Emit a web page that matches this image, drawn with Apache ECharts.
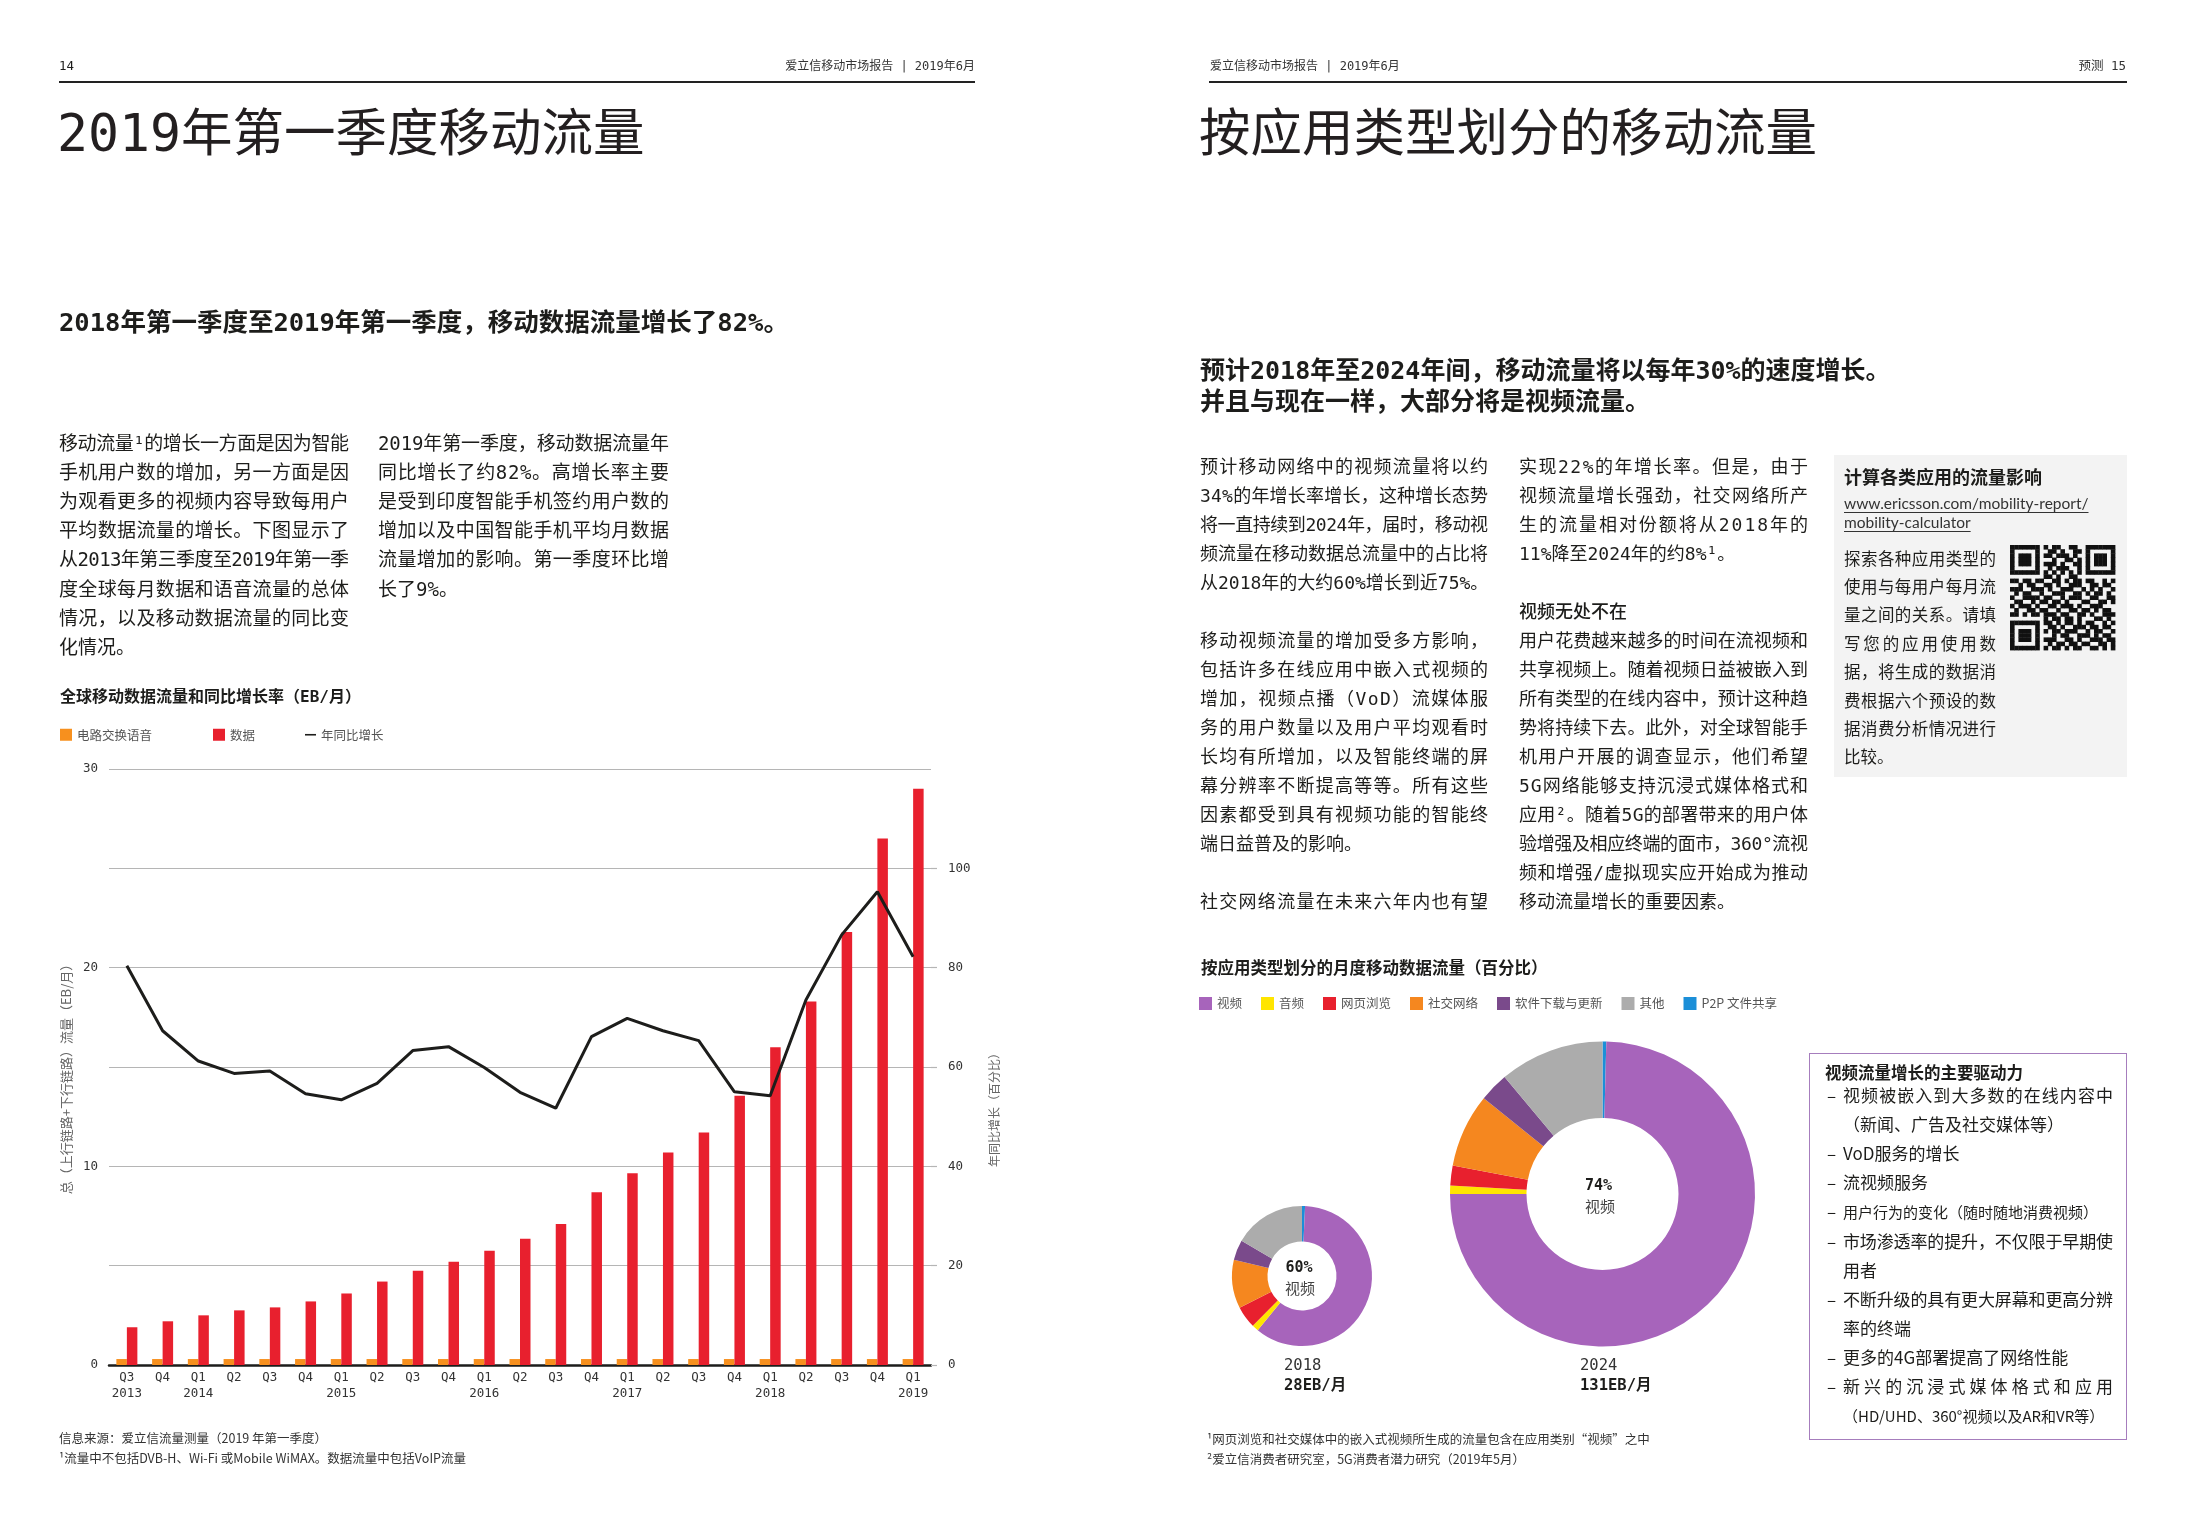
<!DOCTYPE html>
<html>
<head>
<meta charset="utf-8">
<script src="https://cdn.jsdelivr.net/npm/echarts@6/dist/echarts.min.js"></script>
<style>
  html, body { margin:0; padding:0; background:#fff; }
  #page { position:relative; width:2185px; height:1535px; overflow:hidden; background:#fff; }
  #bg, #txt { position:absolute; left:0; top:0; width:2185px; height:1535px; }
  #chart { position:absolute; left:0; top:0; width:2185px; height:1535px; }
  .t { position:absolute; white-space:nowrap; color:#1d1d1b; font-family:"DejaVu Sans Mono","Noto Sans CJK SC",sans-serif; }
  .cjk { font-family:"Noto Sans CJK SC",sans-serif; }
  .b { font-weight:700; }
</style>
</head>
<body>
<div id="page">
  <div id="bg"></div>
  <div id="chart"></div>
  <div id="txt"></div>
</div>
<script>
// ---------------- DATA ----------------
const quarters = ['Q3','Q4','Q1','Q2','Q3','Q4','Q1','Q2','Q3','Q4','Q1','Q2','Q3','Q4','Q1','Q2','Q3','Q4','Q1','Q2','Q3','Q4','Q1'];
const yearLabels = ['2013','','2014','','','','2015','','','','2016','','','','2017','','','','2018','','','','2019'];
const voiceTraffic = [0.3,0.3,0.3,0.3,0.3,0.3,0.3,0.3,0.3,0.3,0.3,0.3,0.3,0.3,0.3,0.3,0.3,0.3,0.3,0.3,0.3,0.3,0.3];
const dataTraffic = [1.9,2.2,2.5,2.75,2.9,3.2,3.6,4.2,4.75,5.2,5.75,6.35,7.1,8.7,9.65,10.7,11.7,13.55,16.0,18.3,21.8,26.5,29.0];
const yoyGrowth = [80.4,67.3,61.2,58.7,59.2,54.6,53.4,56.7,63.3,64.1,59.9,54.9,51.7,66.1,69.8,67.3,65.3,55.0,54.2,73.5,86.6,95.3,82.2];
const leftAxisTicks = [0,10,20,30];

const appCategories = ['P2P 文件共享','视频','音频','网页浏览','社交网络','软件下载与更新','其他'];
const appColors = ['#1b8fd8','#a764bb','#ffe500','#e8202e','#f5871f','#7a4a8b','#acacac'];
const share2018 = [0.7,60.2,1.5,5.1,11.2,4.7,16.6];
const share2024 = [0.4,74.6,0.9,2.1,7.8,3.1,11.1];
const legendOrder = ['视频','音频','网页浏览','社交网络','软件下载与更新','其他','P2P 文件共享'];

const qrRows = [
'1111111010110011001111111',
'1000001001101001101000001',
'1011101011011101001011101',
'1011101000100110101011101',
'1011101011101001101011101',
'1000001001011100101000001',
'1111111010101010101111111',
'0000000011010011000000000',
'1101101100110101101100101',
'0010110011010011100110110',
'1110011101001110010101001',
'0101100100111001101011010',
'1001111011001011100110011',
'0110010110110100011001101',
'1011101001101110100111000',
'0100110110010011011010110',
'1101011011101100110100111',
'0000000010110110100011010',
'1111111011010110101100101',
'1000001001101001110110110',
'1011101010110111001011001',
'1011101000101100111010110',
'1011101011100110100111011',
'1000001001011011011001101',
'1111111010110101100110101'
];

// ---------------- TEXT HELPERS ----------------
const T = document.getElementById('txt');
const BG = document.getElementById('bg');
function put(text, x, yc, size, opt) {
  opt = opt || {};
  const lh = Math.round(size * 1.4);
  const d = document.createElement('div');
  d.className = 't' + (opt.cls ? ' ' + opt.cls : '');
  d.style.fontSize = size + 'px';
  d.style.lineHeight = lh + 'px';
  d.style.top = (yc - lh / 2) + 'px';
  if (opt.color) d.style.color = opt.color;
  if (opt.weight) d.style.fontWeight = opt.weight;
  if (opt.family) d.style.fontFamily = opt.family;
  const s = document.createElement('span');
  s.textContent = text;
  d.appendChild(s);
  T.appendChild(d);
  if (opt.align === 'right') {
    d.style.right = (2185 - x) + 'px';
  } else if (opt.align === 'center') {
    const w = s.getBoundingClientRect().width;
    d.style.left = (x - w / 2) + 'px';
  } else {
    d.style.left = x + 'px';
  }
  if (opt.width) {
    const w0 = s.getBoundingClientRect().width;
    const n = Array.from(text).length;
    if (n > 1) s.style.letterSpacing = ((opt.width - w0) / (n - 1)) + 'px';
  }
  if (opt.underline) {
    s.style.textDecoration = 'underline';
    s.style.textUnderlineOffset = '3px';
    s.style.textDecorationThickness = '1px';
  }
  return d;
}
function block(lines, x, y0, step, width, size, opt) {
  opt = opt || {};
  lines.forEach((ln, i) => {
    if (!ln) return;
    const left = ln.charAt(0) === '~';
    const txt = left ? ln.slice(1) : ln;
    put(txt, x, y0 + i * step, size, Object.assign({}, opt, left ? {} : { width: width }));
  });
}
function rect(parent, x, y, w, h, css) {
  const d = document.createElement('div');
  d.style.position = 'absolute';
  d.style.left = x + 'px'; d.style.top = y + 'px';
  d.style.width = w + 'px'; d.style.height = h + 'px';
  Object.assign(d.style, css);
  parent.appendChild(d);
}

// headers
put('14', 59, 66, 12.5);
put('爱立信移动市场报告 | 2019年6月', 975, 66, 12, { align: 'right', color: '#333' });
put('爱立信移动市场报告 | 2019年6月', 1210, 66, 12, { color: '#333' });
put('预测 15', 2126, 66, 12.5, { align: 'right', color: '#333' });
rect(T, 59, 81, 916, 1.6, { background: '#222' });
rect(T, 1209, 81, 918, 1.6, { background: '#222' });

// titles
put('2019年第一季度移动流量', 57, 133, 51.5, { color: '#231f20' });
put('按应用类型划分的移动流量', 1199, 133, 51.5, { color: '#231f20' });

put('2018年第一季度至2019年第一季度，移动数据流量增长了82%。', 59, 322, 25.5, { cls: 'b' });
put('预计2018年至2024年间，移动流量将以每年30%的速度增长。', 1200, 370, 25, { cls: 'b' });
put('并且与现在一样，大部分将是视频流量。', 1200, 401, 25, { cls: 'b' });

// left body
block(['移动流量¹的增长一方面是因为智能','手机用户数的增加，另一方面是因','为观看更多的视频内容导致每用户','平均数据流量的增长。下图显示了','从2013年第三季度至2019年第一季','度全球每月数据和语音流量的总体','情况，以及移动数据流量的同比变','~化情况。'], 59, 443, 29.2, 290, 19);
block(['2019年第一季度，移动数据流量年','同比增长了约82%。高增长率主要','是受到印度智能手机签约用户数的','增加以及中国智能手机平均月数据','流量增加的影响。第一季度环比增','~长了9%。'], 378, 443, 29.2, 291, 19);

put('全球移动数据流量和同比增长率（EB/月）', 60, 697, 16, { cls: 'b' });
put('信息来源：爱立信流量测量（2019 年第一季度）', 59, 1438, 12.5, { cls: 'cjk', color: '#333' });
put('¹流量中不包括DVB-H、Wi-Fi 或Mobile WiMAX。数据流量中包括VoIP流量', 59, 1458, 12.5, { cls: 'cjk', color: '#333' });

// right body
block(['预计移动网络中的视频流量将以约','34%的年增长率增长，这种增长态势','将一直持续到2024年，届时，移动视','频流量在移动数据总流量中的占比将','~从2018年的大约60%增长到近75%。','',
  '移动视频流量的增加受多方影响，','包括许多在线应用中嵌入式视频的','增加，视频点播（VoD）流媒体服','务的用户数量以及用户平均观看时','长均有所增加，以及智能终端的屏','幕分辨率不断提高等等。所有这些','因素都受到具有视频功能的智能终','~端日益普及的影响。','',
  '社交网络流量在未来六年内也有望'], 1200, 466.5, 29, 288, 18);
block(['实现22%的年增长率。但是，由于','视频流量增长强劲，社交网络所产','生的流量相对份额将从2018年的','~11%降至2024年的约8%¹。','','',
  '用户花费越来越多的时间在流视频和','共享视频上。随着视频日益被嵌入到','所有类型的在线内容中，预计这种趋','势将持续下去。此外，对全球智能手','机用户开展的调查显示，他们希望','5G网络能够支持沉浸式媒体格式和','应用²。随着5G的部署带来的用户体','验增强及相应终端的面市，360°流视','频和增强/虚拟现实应开始成为推动','~移动流量增长的重要因素。'], 1519, 466.5, 29, 289, 18);
put('视频无处不在', 1519, 611.5, 18, { weight: 500 });

// sidebar (background sits below the chart canvas so the QR code is visible)
rect(BG, 1834, 455, 293, 322, { background: '#f3f3f3' });
put('计算各类应用的流量影响', 1844, 476, 18, { cls: 'cjk b' });
put('www.ericsson.com/mobility-report/', 1844, 503, 15.5, { family: 'Lato, "Noto Sans", sans-serif', color: '#333', underline: true });
put('mobility-calculator', 1844, 522, 15.5, { family: 'Lato, "Noto Sans", sans-serif', color: '#333', underline: true });
block(['探索各种应用类型的','使用与每用户每月流','量之间的关系。请填','写您的应用使用数','据，将生成的数据消','费根据六个预设的数','据消费分析情况进行','~比较。'], 1844, 558, 28.4, 152, 16.5, { cls: 'cjk' });

// right chart texts
put('按应用类型划分的月度移动数据流量（百分比）', 1201, 968, 16.5, { cls: 'b' });
put('60%', 1299, 1267, 15, { align: 'center', cls: 'b' });
put('视频', 1300, 1287, 15, { align: 'center', cls: 'cjk', color: '#444' });
put('74%', 1598.5, 1185, 15, { align: 'center', cls: 'b' });
put('视频', 1600, 1205, 15, { align: 'center', cls: 'cjk', color: '#444' });
put('2018', 1284, 1365, 15.5, { color: '#333' });
put('28EB/月', 1284, 1385, 15.5, { cls: 'b' });
put('2024', 1580, 1365, 15.5, { color: '#333' });
put('131EB/月', 1580, 1385, 15.5, { cls: 'b' });
put('¹网页浏览和社交媒体中的嵌入式视频所生成的流量包含在应用类别“视频”之中', 1207, 1439, 12.5, { cls: 'cjk', color: '#333' });
put('²爱立信消费者研究室，5G消费者潜力研究（2019年5月）', 1207, 1459, 12.5, { cls: 'cjk', color: '#333' });

// drivers box
rect(T, 1809, 1053, 318, 387, { border: '1.5px solid #a67dbd', boxSizing: 'border-box' });
put('视频流量增长的主要驱动力', 1825, 1072, 16.5, { cls: 'cjk b' });
const drivers = [
  ['视频被嵌入到大多数的在线内容中', 1, 1, 17],
  ['（新闻、广告及社交媒体等）', 0, 0, 17],
  ['VoD服务的增长', 1, 0, 17],
  ['流视频服务', 1, 0, 17],
  ['用户行为的变化（随时随地消费视频）', 1, 0, 15],
  ['市场渗透率的提升，不仅限于早期使', 1, 1, 17],
  ['用者', 0, 0, 17],
  ['不断升级的具有更大屏幕和更高分辨', 1, 1, 17],
  ['率的终端', 0, 0, 17],
  ['更多的4G部署提高了网络性能', 1, 0, 17],
  ['新兴的沉浸式媒体格式和应用', 1, 1, 17],
  ['（HD/UHD、360°视频以及AR和VR等）', 0, 0, 15]
];
drivers.forEach((d, i) => {
  const yc = 1095 + i * 29.1;
  if (d[1]) put('–', 1827, yc, 17, { cls: 'cjk' });
  put(d[0], 1843, yc, d[3], Object.assign({ cls: 'cjk' }, d[2] ? { width: 270 } : {}));
});

// ---------------- CHART ----------------
const MONO = '"DejaVu Sans Mono", "Noto Sans CJK SC", sans-serif';
const CJK = '"Noto Sans CJK SC", sans-serif';
const chart = echarts.init(document.getElementById('chart'), null, { renderer: 'canvas', width: 2185, height: 1535 });

const qrModule = 105 / 25;
const qrElements = [];
qrRows.forEach((row, r) => {
  for (let c = 0; c < row.length; c++) {
    if (row[c] === '1') qrElements.push({
      type: 'rect',
      shape: { x: 2010 + c * qrModule, y: 545 + r * qrModule, width: qrModule + 0.4, height: qrModule + 0.4 },
      style: { fill: '#111' }, silent: true
    });
  }
});

const legendText = { fontSize: 12.5, color: '#555', fontFamily: CJK };
const pieData = (vals) => appCategories.map((n, i) => ({ name: n, value: vals[i], itemStyle: { color: appColors[i] } }));

chart.setOption({
  animation: false,
  backgroundColor: 'transparent',
  textStyle: { fontFamily: MONO },
  grid: { left: 109, top: 769, width: 822, height: 596, containLabel: false, outerBoundsMode: 'none' },
  legend: [
    { data: ['电路交换语音'], left: 60, top: 728.5, padding: 0, itemWidth: 12, itemHeight: 12, icon: 'rect', textStyle: legendText, selectedMode: false },
    { data: ['数据'], left: 213, top: 728.5, padding: 0, itemWidth: 12, itemHeight: 12, icon: 'rect', textStyle: legendText, selectedMode: false },
    { data: ['年同比增长'], left: 305, top: 728.5, padding: 0, itemWidth: 11, itemHeight: 1.6, icon: 'rect', textStyle: legendText, selectedMode: false },
    { data: legendOrder, left: 1199, top: 997, padding: 0, itemWidth: 13, itemHeight: 13, itemGap: 19, icon: 'rect', textStyle: legendText, selectedMode: false }
  ],
  xAxis: {
    type: 'category', data: quarters,
    axisLine: { lineStyle: { color: '#1d1d1b', width: 2.5 } },
    axisTick: { show: false },
    axisLabel: {
      interval: 0, margin: 5, fontSize: 12.5, lineHeight: 16, color: '#333', fontFamily: MONO,
      formatter: (v, i) => yearLabels[i] ? v + '\n' + yearLabels[i] : v
    }
  },
  yAxis: [
    {
      type: 'value', min: 0, max: 30, interval: 5,
      axisLine: { show: false }, axisTick: { show: false },
      splitLine: { lineStyle: { color: '#b5b5b5', width: 1.2 } },
      axisLabel: { margin: 11, fontSize: 12.5, color: '#333', fontFamily: MONO,
        formatter: v => leftAxisTicks.indexOf(v) >= 0 ? String(v) : '' },
      name: '总（上行链路+下行链路）流量（EB/月）', nameLocation: 'middle', nameRotate: 90, nameGap: 36,
      nameTextStyle: { fontSize: 13, color: '#666', fontFamily: CJK, padding: [0, 18, 0, 0] }
    },
    {
      type: 'value', min: 0, max: 120, interval: 20, position: 'right',
      axisLine: { show: false },
      axisTick: { show: true, length: 6, lineStyle: { color: '#b5b5b5', width: 1.2 } },
      splitLine: { show: false },
      axisLabel: { showMaxLabel: false, margin: 17, fontSize: 12.5, color: '#333', fontFamily: MONO },
      name: '年同比增长（百分比）', nameLocation: 'middle', nameRotate: 90, nameGap: 57,
      nameTextStyle: { fontSize: 12, color: '#666', fontFamily: CJK, padding: [0, 80, 0, 0] }
    }
  ],
  series: [
    { name: '电路交换语音', type: 'bar', data: voiceTraffic, barWidth: 10.5, barGap: '0%', itemStyle: { color: '#f7901e' }, silent: true },
    { name: '数据', type: 'bar', data: dataTraffic, barWidth: 10.5, barGap: '0%', itemStyle: { color: '#e8202e' }, silent: true },
    { name: '年同比增长', type: 'line', yAxisIndex: 1, data: yoyGrowth, symbol: 'none', smooth: false, z: 5,
      lineStyle: { color: '#1d1d1b', width: 3 }, itemStyle: { color: '#1d1d1b' }, silent: true },
    { type: 'pie', center: [1302, 1276], radius: [34.5, 70], startAngle: 90, clockwise: true,
      label: { show: false }, labelLine: { show: false }, silent: true, itemStyle: { borderWidth: 0 }, data: pieData(share2018) },
    { type: 'pie', center: [1602.5, 1194], radius: [76, 152.5], startAngle: 90, clockwise: true,
      label: { show: false }, labelLine: { show: false }, silent: true, itemStyle: { borderWidth: 0 }, data: pieData(share2024) }
  ],
  graphic: { elements: qrElements }
});
</script>
</body>
</html>
